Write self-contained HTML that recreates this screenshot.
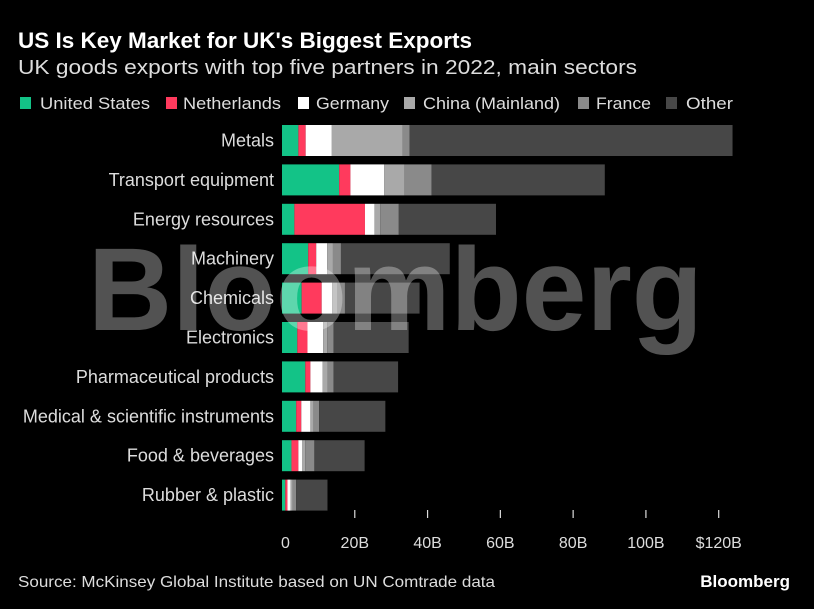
<!DOCTYPE html>
<html><head><meta charset="utf-8"><style>
html,body{margin:0;padding:0;background:#000;}
svg{display:block;font-family:"Liberation Sans",sans-serif;}
</style></head><body>
<svg id="chart" width="814" height="609" viewBox="0 0 814 609">
<rect width="814" height="609" fill="#000"/>
<text x="18" y="48" fill="#fff" font-size="22" font-weight="bold" textLength="454" lengthAdjust="spacingAndGlyphs">US Is Key Market for UK's Biggest Exports</text>
<text x="18" y="74" fill="#ddd" font-size="20" textLength="619" lengthAdjust="spacingAndGlyphs">UK goods exports with top five partners in 2022, main sectors</text>
<g id="legend"></g>
<g id="labels"></g>
<g id="bars"></g>
<g id="axis"></g>
<text x="88" y="330" fill="#fff" fill-opacity="0.32" font-size="118" font-weight="bold" textLength="615" lengthAdjust="spacingAndGlyphs">Bloomberg</text>
<text x="18" y="587" fill="#ddd" font-size="16" textLength="477" lengthAdjust="spacingAndGlyphs">Source: McKinsey Global Institute based on UN Comtrade data</text>
<text x="790" y="587" fill="#fff" font-size="17" font-weight="bold" text-anchor="end">Bloomberg</text>
</svg>
<script>
const categories = ["Metals","Transport equipment","Energy resources","Machinery","Chemicals","Electronics","Pharmaceutical products","Medical & scientific instruments","Food & beverages","Rubber & plastic"];
const seriesNames = ["United States","Netherlands","Germany","China (Mainland)","France","Other"];
const unitedStates = [4.5,15.7,3.4,7.2,5.4,4.2,6.4,3.9,2.6,0.9];
const netherlands = [2.0,3.1,19.4,2.2,5.5,2.8,1.4,1.4,1.9,0.6];
const germany = [7.2,9.3,2.6,3.0,2.9,4.3,3.4,2.5,1.0,0.9];
const china = [19.4,5.6,1.6,1.6,1.5,1.1,1.4,0.9,0.9,0.5];
const france = [2.0,7.4,5.1,2.2,2.0,1.8,1.6,1.5,2.5,1.0];
const other = [88.7,47.6,26.7,29.9,20.5,20.6,17.7,18.2,13.8,8.6];
const tickValues = [0,20,40,60,80,100,120];
const tickLabels = ["0","20B","40B","60B","80B","100B","$120B"];
const series = [unitedStates,netherlands,germany,china,france,other];
const colors = ["#13c387","#ff3a5d","#ffffff","#a9a9a9","#8a8a8a","#474747"];
const NS="http://www.w3.org/2000/svg";
const x0=282, pxPer=(718.7-282)/120;
const xs=v=>x0+v*pxPer;
const rowY=i=>125+i*39.4;
const barH=31;
function mk(tag,attrs,parent){const e=document.createElementNS(NS,tag);for(const k in attrs)e.setAttribute(k,attrs[k]);parent.appendChild(e);return e;}
const legend=document.getElementById('legend');
const legX=[20,166,298,404,578,666];
const legTX=[40,183,316,423,596,686];
const legW=[110,98,73,137,55,47];
seriesNames.forEach((n,i)=>{
  const s=mk('rect',{x:legX[i],y:97,width:11,height:12,fill:colors[i]},legend);
  
  
  const t=mk('text',{x:legTX[i],y:109,fill:'#ddd','font-size':17,textLength:legW[i],lengthAdjust:'spacingAndGlyphs'},legend);
  t.textContent=n;
  
  
});
const labels=document.getElementById('labels');
const bars=document.getElementById('bars');
categories.forEach((c,i)=>{
  const t=mk('text',{x:274,y:rowY(i)+barH/2+6,fill:'#ddd','font-size':18,'text-anchor':'end'},labels);
  t.textContent=c;
  
  
  let acc=0;
  series.forEach((arr,j)=>{
    const v=arr[i];
    const r=mk('rect',{x:xs(acc),y:rowY(i),width:xs(acc+v)-xs(acc),height:barH,fill:colors[j]},bars);
    
    
    acc+=v;
  });
});
const axis=document.getElementById('axis');
tickValues.forEach((v,i)=>{
  if(v>0){const l=mk('line',{x1:xs(v),x2:xs(v),y1:510,y2:518,stroke:'#ddd','stroke-width':1.2},axis);
  
  }
  const t=mk('text',{x:v===0?xs(v)-1:xs(v),y:548,fill:'#ddd','font-size':16,'text-anchor':v===0?'start':'middle'},axis);
  t.textContent=tickLabels[i];
  
  
});
</script>
</body></html>
